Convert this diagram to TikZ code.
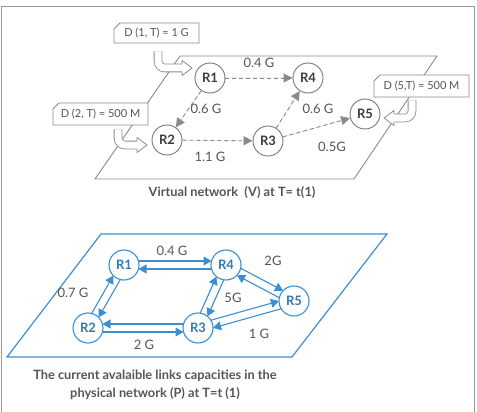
\documentclass[tikz,border=0pt]{standalone}
\usepackage{fontspec}
\setmainfont{Lato}
\usetikzlibrary{arrows.meta,calc,shapes.misc}
\definecolor{lgray}{HTML}{8A8A8A}
\definecolor{cgray}{HTML}{777777}
\definecolor{txt}{HTML}{555555}
\definecolor{ntxt}{HTML}{3C3C3C}
\definecolor{pblue}{HTML}{3A8FD3}
\definecolor{framec}{HTML}{999999}

\newcommand\biarrow[4]{%
  \draw[plink] ($(#1)!4pt!#3:(#2)$) -- ($(#2)!4pt!#4:(#1)$);
  \draw[plink] ($(#2)!4pt!#3:(#1)$) -- ($(#1)!4pt!#4:(#2)$);
}
\newcommand\hollowarrow[4]{%
  \draw[hollow] (#1) |- (#2);
  \filldraw[fill=white,draw=lgray,line width=0.8pt,line join=round]
    ($(#2)+(0,-3.9)$) -- ($(#2)+(0,-7.5)$) -- ($(#2)+(#3*#4,0)$) -- ($(#2)+(0,7.5)$) -- ($(#2)+(0,3.9)$);
}

\begin{document}
\begin{tikzpicture}[x=1pt,y=-1pt,
  vnode/.style={circle,draw=cgray,line width=0.9pt,fill=white,minimum size=30pt,inner sep=0pt,
    font=\fontsize{13}{15}\selectfont\bfseries,text=ntxt},
  pnode/.style={circle,draw=pblue,line width=1.1pt,fill=white,minimum size=30pt,inner sep=0pt,
    font=\fontsize{13}{15}\selectfont\bfseries,text=pblue!85!black},
  vlink/.style={draw=lgray,line width=0.9pt,dash pattern=on 4pt off 3pt,
    -{Triangle[length=9pt,width=9pt]},fill=lgray},
  plink/.style={draw=pblue,line width=1.1pt,-{Triangle[length=8pt,width=9pt]},
    shorten <=14.5pt,shorten >=14.5pt},
  lbl/.style={font=\fontsize{13}{15}\selectfont,text=txt,inner sep=0pt},
  dbox/.style={chamfered rectangle,chamfered rectangle corners=north west,
    chamfered rectangle xsep=3pt,chamfered rectangle ysep=3pt,
    draw=lgray,line width=0.8pt,fill=white,inner sep=0pt,
    font=\fontsize{11}{13}\selectfont,text=txt},
  hollow/.style={draw=lgray,line width=0.8pt,double=white,double distance=7pt,rounded corners=7pt},
  captext/.style={font=\fontsize{12.8}{18}\selectfont\bfseries,text=txt,align=center,inner sep=0pt}
]
\useasboundingbox (0,0) rectangle (477,412);
% outer frame
\draw[framec,line width=0.9pt] (1.5,412) -- (1.5,6) -- (474.5,6) -- (474.5,412);

% ---------- virtual network ----------
\draw[lgray,line width=0.9pt] (180,56) -- (437,56) -- (354,179) -- (95,179) -- cycle;

\node[vnode] (vR1) at (210,78) {R1};
\node[vnode] (vR4) at (308,78) {R4};
\node[vnode] (vR2) at (167,140) {R2};
\node[vnode] (vR3) at (268,141) {R3};
\node[vnode] (vR5) at (365,114) {R5};

\draw[vlink] (vR1) -- (vR4);
\draw[vlink] (vR1) -- (vR2);
\draw[vlink] (vR2) -- (vR3);
\draw[vlink] (vR3) -- (vR4);
\draw[vlink] (vR3) -- (vR5);

\node[lbl] (l1) at (259,63) {0.4 G};
\node[lbl] (l2) at (206,109) {0.6 G};
\node[lbl] (l3) at (318,109) {0.6 G};
\node[lbl] (l4) at (210,157) {1.1 G};
\node[lbl] (l5) at (332,147) {0.5G};

\node[dbox,minimum width=85pt,minimum height=20pt] (d1) at (156.5,33) {D (1, T) = 1 G};
\node[dbox,minimum width=95pt,minimum height=22pt] (d2) at (100.5,114) {D (2, T) = 500 M};
\node[dbox,minimum width=95pt,minimum height=22pt] (d5) at (421.5,86) {D (5,T) = 500 M};

\coordinate (h1s) at ($(d1.south)+(1.5,8)$);
\coordinate (h1e) at ($(vR1)+(-28,-10)$);
\coordinate (h2s) at ($(d2.south)+(17.5,4)$);
\coordinate (h2e) at ($(vR2)+(-30,5)$);
\coordinate (h5s) at ($(d5.south)+(-9.5,3)$);
\coordinate (h5e) at ($(vR5)+(29,4)$);
\hollowarrow{h1s}{h1e}{1}{10}
\hollowarrow{h2s}{h2e}{1}{10}
\hollowarrow{h5s}{h5e}{-1}{10}

\node[captext] (vcap) at (232,192) {Virtual network\ \ (V) at T= t(1)};

% ---------- physical network ----------
\draw[pblue,line width=1.2pt] (101,234) -- (387,234) -- (292,357) -- (7,357) -- cycle;

\node[pnode] (R1) at (124,265) {R1};
\node[pnode] (R4) at (226,265) {R4};
\node[pnode] (R2) at (88,328) {R2};
\node[pnode] (R3) at (198,328) {R3};
\node[pnode] (R5) at (294,301) {R5};

\biarrow{R1}{R4}{90}{-90}
\biarrow{R3}{R2}{-90}{90}
\biarrow{R2}{R1}{90}{-90}
\biarrow{R3}{R4}{90}{-90}
\biarrow{R4}{R5}{90}{-90}
\biarrow{R3}{R5}{90}{-90}

\node[lbl] (p1) at (172,251) {0.4 G};
\node[lbl] (p2) at (73,293) {0.7 G};
\node[lbl] (p3) at (233,298) {5G};
\node[lbl] (p4) at (273,261) {2G};
\node[lbl] (p5) at (259,334) {1 G};
\node[lbl] (p6) at (144,345) {2 G};

\node[captext] (pcap) at (155,385) {The current avalaible links capacities in the\\ physical network (P) at T=t (1)};
\end{tikzpicture}
\end{document}
